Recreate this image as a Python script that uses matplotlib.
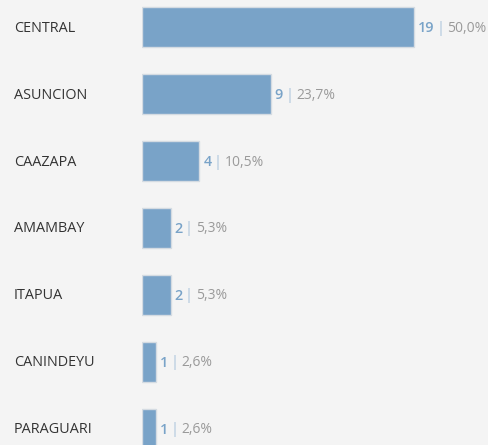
import matplotlib
matplotlib.use('Agg')
import matplotlib.pyplot as plt
from matplotlib.transforms import blended_transform_factory

departamentos = ['CENTRAL', 'ASUNCION', 'CAAZAPA', 'AMAMBAY', 'ITAPUA', 'CANINDEYU', 'PARAGUARI']
casos = [19, 9, 4, 2, 2, 1, 1]
porcentajes = ['50,0%', '23,7%', '10,5%', '5,3%', '5,3%', '2,6%', '2,6%']

bg = '#f4f4f4'
blue = '#79a3c8'
plt.rcParams['font.family'] = ['Open Sans', 'DejaVu Sans']

fig = plt.figure(figsize=(4.88, 4.45), dpi=100, facecolor=bg)
ax = fig.add_axes([142 / 488, 0, 1 - 142 / 488, 1])
ax.set_facecolor(bg)

pos = list(range(len(departamentos)))
ax.barh(pos, casos, height=0.61, color=blue, edgecolor='#d4dbe2', linewidth=1.0)
ax.set_xlim(0, 24.17)
ax.set_ylim(6.239, -0.403)
for s in ax.spines.values():
    s.set_visible(False)
ax.set_xticks([])
ax.set_yticks([])

lbl_tr = blended_transform_factory(fig.transFigure, ax.transData)
for i, (d, n, p) in enumerate(zip(departamentos, casos, porcentajes)):
    # nombre del departamento a la izquierda
    fig.text(14 / 488, i + 0.015, d, fontsize=10.4, color='#333333', va='center', ha='left',
             transform=lbl_tr)
    t1 = ax.annotate(str(n), xy=(n, i + 0.015), xytext=(4, 0), textcoords='offset pixels',
                     fontsize=10.4, fontweight='semibold', color=blue, va='center', ha='left')
    t2 = ax.annotate('|', xy=(1, 0.5), xycoords=t1, xytext=(2, 0), textcoords='offset pixels',
                     fontsize=10.4, color='#a9c3dc', va='center', ha='left')
    ax.annotate(p, xy=(1, 0.5), xycoords=t2, xytext=(3, 0), textcoords='offset pixels',
                fontsize=10, color='#9a9a9a', va='center', ha='left')

fig.savefig('out.png', dpi=100, facecolor=bg)
